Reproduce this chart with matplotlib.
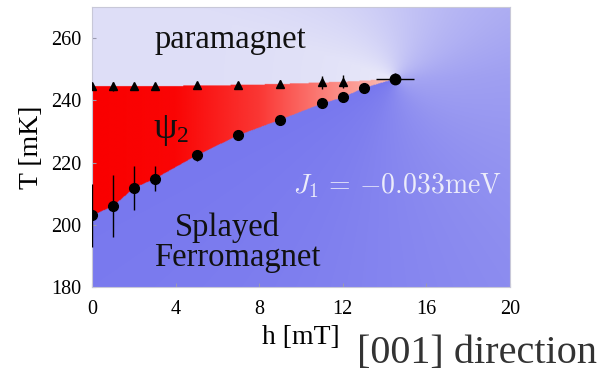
import numpy as np
import matplotlib
matplotlib.use("Agg")
import matplotlib.pyplot as plt

# ---- data ----
tri_h = [0, 1, 2, 3, 5, 7, 9, 11, 12, 14.5]
tri_T = [244.6, 244.5, 244.6, 244.6, 244.8, 245.0, 245.3, 245.8, 246.0, 247.0]
tri_err = [1.0, 1.5, 0.8, 0.8, 0.8, 0.8, 1.2, 2.0, 2.0, 1.8]

circ_h = [0, 1, 2, 3, 5, 7, 9, 11, 12, 13, 14.5]
circ_T = [203.0, 206.0, 211.8, 214.8, 222.3, 228.8, 233.8, 239.0, 241.0, 244.0, 247.0]
circ_err = [10.0, 10.0, 7.0, 4.0, 1.8, 0.5, 0.5, 0.5, 0.5, 0.5, 1.5]

tip_h_err = 0.9

xticks = [0, 4, 8, 12, 16, 20]
yticks = [180, 200, 220, 240, 260]

plt.rcParams['font.family'] = ['Liberation Serif', 'DejaVu Serif']
plt.rcParams['mathtext.fontset'] = 'cm'

fig = plt.figure(figsize=(6.0, 3.77), dpi=100)
ax = fig.add_axes([92/600, 1-287/377, 418/600, 280/377])
ax.set_xlim(0, 20)
ax.set_ylim(180, 270)

# ---- background colour field ----
nx, ny = 600, 400
hh = np.linspace(0, 20, nx)
TT = np.linspace(180, 270, ny)
H, T = np.meshgrid(hh, TT)
tip_h, tip_T = tri_h[-1], tri_T[-1]
sx, sy = 20.9, 3.11  # px per unit
dx = (H - tip_h) * sx
dy = (T - tip_T) * sy
theta = np.degrees(np.arctan2(dy, dx))
theta_up = np.degrees(np.arctan2((tri_T[0]-tip_T)*sy, (tri_h[0]-tip_h)*sx)) + 360
phi = np.mod(theta_up - theta, 360)
Tu = np.interp(H, tri_h, tri_T)
Tl = np.interp(H, circ_h, circ_T)
phi = np.where((H <= tip_h) & (T > Tu) & (phi > 300), 0.0, phi)
t = np.interp(phi, [0, 20, 90, 150, 180, 240, 300, 340, 360],
              [0, 0, 0.27, 0.5, 0.64, 0.8, 0.94, 1.0, 1.0])
lav = np.array([222, 222, 247]) / 255
blu = np.array([120, 120, 238]) / 255
img = lav[None, None, :] * (1 - t[..., None]) + blu[None, None, :] * t[..., None]
r = np.hypot(dx, dy)
w = 0.35 * np.exp(-r / 70.0) * (1 - t)
img = img * (1 - w[..., None]) + w[..., None]

mask = (H <= tip_h) & (T <= Tu) & (T >= Tl)
gb = np.interp(H, [0, 4, 8, 11, 14.5], [0, 5, 55, 125, 195]) / 255
rr = np.interp(H, [0, 8, 14.5], [250, 250, 252]) / 255
red = np.stack([rr, gb, gb * 0.95], axis=-1)
img[mask] = red[mask]
ax.imshow(img, extent=[0, 20, 180, 270], origin='lower', aspect='auto',
          interpolation='bilinear', zorder=0)

# ---- data ----
ax.errorbar(tri_h[:-1], tri_T[:-1], yerr=tri_err[:-1], fmt='^', color='black',
            ms=6, elinewidth=1.0, capsize=0, zorder=3)
ax.errorbar(circ_h[:-1], circ_T[:-1], yerr=circ_err[:-1], fmt='o', color='black',
            ms=7, elinewidth=1.0, capsize=0, zorder=3)
ax.errorbar([tri_h[-1]], [tri_T[-1]], yerr=[tri_err[-1]], xerr=[tip_h_err],
            fmt='o', color='black', ms=7.5, elinewidth=1.0, capsize=0, zorder=3)

# ---- axes styling ----
ax.set_xticks(xticks)
ax.set_yticks(yticks)
ax.tick_params(direction='in', length=3, color='#9a9ab0', labelsize=14.5)
ax.tick_params(axis='x', pad=9)
ax.tick_params(axis='y', pad=8)
for s in ax.spines.values():
    s.set_color('#c8c8d8')
    s.set_linewidth(0.8)
ax.set_xlabel('h [mT]', fontsize=20, labelpad=5)
ax.set_ylabel('T [mK]', fontsize=20, labelpad=5)

# ---- region labels ----
ax.text(3.5, 230.8, 'ψ', fontsize=27, ha='center', va='center', color='#111111')
ax.text(4.35, 228.4, '2', fontsize=17, ha='center', va='center', color='#111111')
ax.text(6.6, 259.4, 'paramagnet', fontsize=23.5, ha='center', va='center', color='#111111')
ax.text(6.46, 199.0, 'Splayed', fontsize=23.5, ha='center', va='center', color='#111111')
ax.text(6.94, 189.5, 'Ferromagnet', fontsize=23.5, ha='center', va='center', color='#111111')
ax.text(14.6, 212.5, r'$J_1\,=\,{-}0.033\mathrm{meV}$', fontsize=20, ha='center',
        va='center', color='#ececfa')

fig.text(477/600, 1-354/377, '[001] direction', fontsize=29, ha='center',
         va='center', color='#333333')

fig.savefig('out.png', dpi=100)
